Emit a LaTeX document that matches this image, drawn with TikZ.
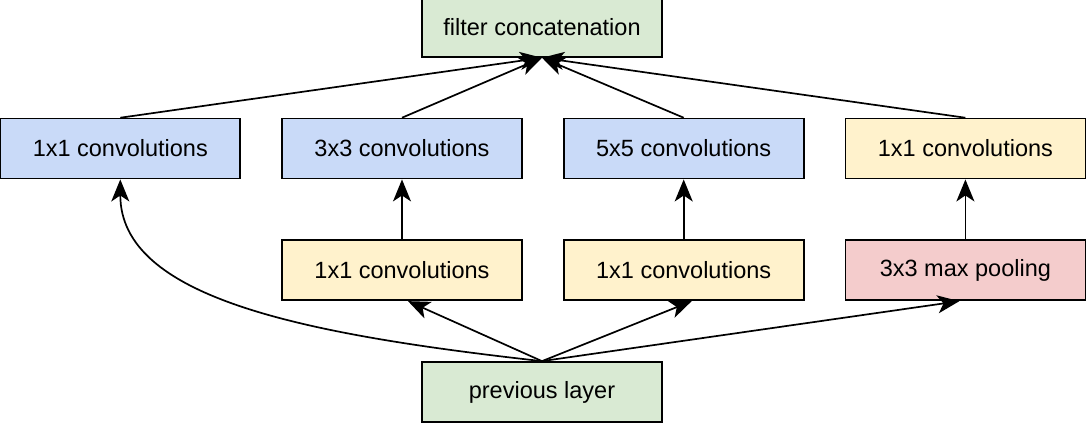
\documentclass[tikz,border=0pt]{standalone}
\usepackage{fontspec}
\setmainfont{Liberation Sans}
\usetikzlibrary{positioning}
\usetikzlibrary{arrows.meta}
\definecolor{boxgreen}{RGB}{217,234,211}
\definecolor{boxblue}{RGB}{201,218,248}
\definecolor{boxyellow}{RGB}{255,242,204}
\definecolor{boxred}{RGB}{244,204,204}
\tikzset{
	-{Stealth[length=11pt,width=9pt,inset=3pt]},
	node distance = 30pt and 20pt,
	every path/.style={line width=0.85pt},
	layer/.style={rectangle, draw, minimum width=120pt, minimum height=30pt, inner sep=0pt,
		font=\fontsize{11.75}{14}\selectfont},
	concat/.style={layer, fill=boxgreen},
	conv/.style={layer, fill=boxblue},
	reduce/.style={layer, fill=boxyellow},
	pool/.style={layer, fill=boxred}
}

\begin{document}
\begin{tikzpicture}
	\useasboundingbox (-271pt,-17pt) rectangle (272pt,196pt);
	\node (prev) [concat] {previous layer};
	\node (red3x3) [reduce, above = of prev, xshift=-70pt] {1x1 convolutions};
	\node (red5x5) [reduce, right = of red3x3] {1x1 convolutions};
	\node (maxpool) [pool, right = of red5x5] {3x3 max pooling};
	\node (conv3x3) [conv, above = of red3x3] {3x3 convolutions};
	\node (conv5x5) [conv, above = of red5x5] {5x5 convolutions};
	\node (proj) [reduce, above = of maxpool] {1x1 convolutions};
	\node (conv1x1) [conv, left = of conv3x3] {1x1 convolutions};
	\node (filt) [concat, above = of conv3x3, xshift=70pt] {filter concatenation};

	% from previous layer
	\draw (prev.north) .. controls +(-121pt,13.5pt) and +(0,-59pt) .. (conv1x1.south);
	\draw (prev.north) -- ([xshift=3pt]red3x3.south);
	\draw (prev.north) -- ([xshift=4pt]red5x5.south);
	\draw (prev.north) -- ([xshift=-3pt]maxpool.south);

	\draw (red3x3) -- (conv3x3);
	\draw (red5x5) -- (conv5x5);
	\draw (maxpool) -- (proj);

	% into filter concatenation
	\draw (conv1x1.north) -- (filt.south);
	\draw (conv3x3.north) -- (filt.south);
	\draw (conv5x5.north) -- (filt.south);
	\draw (proj.north) -- (filt.south);
\end{tikzpicture}
\end{document}
